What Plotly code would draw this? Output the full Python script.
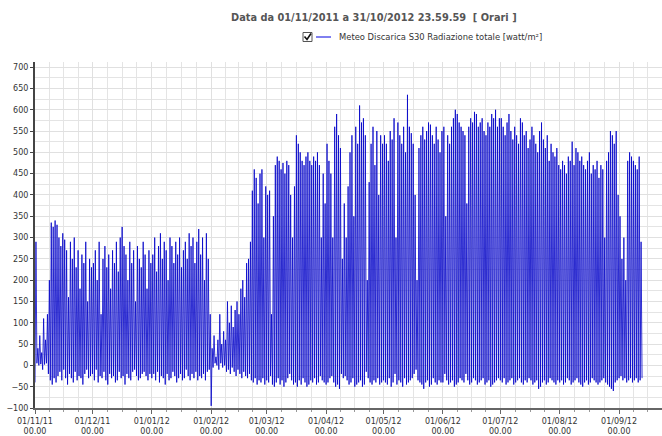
import pandas as pd
import plotly.graph_objects as go

# ---- data: daily peak (midday) and night values ----
nov_peak = [290, 40, 70, 30, 110, 60, 120, 200, 335, 325, 340, 330, 300, 280, 310, 295, 270, 160, 290, 250,
            300, 230, 270, 180, 260, 240, 290, 150, 250, 230]
dec_peak = [240, 270, 200, 290, 120, 250, 280, 230, 260, 180, 270, 240, 290, 220, 300, 325, 280, 260, 200, 290,
            240, 270, 150, 280, 250, 230, 290, 260, 180, 270, 240]
jan_peak = [260, 300, 220, 280, 310, 250, 290, 270, 200, 300, 280, 240, 290, 260, 300, 230, 270, 290, 250, 310,
            280, 300, 240, 290, 320, 260, 300, 200, 310, 250, 120]
feb_peak = [40, 70, 20, 60, 120, 50, 80, 60, 150, 100, 140, 90, 130, 150, 120, 180, 200, 160, 240, 250,
            290, 410, 460, 440, 380, 450, 460, 300, 420]
mar_peak = [400, 410, 120, 350, 470, 490, 480, 460, 475, 450, 480, 470, 400, 300, 420, 540, 520, 500, 480, 470,
            490, 500, 480, 470, 490, 480, 500, 470, 300, 450, 380]
apr_peak = [520, 480, 450, 300, 560, 590, 540, 510, 250, 380, 300, 420, 500, 540, 350, 560, 520, 610, 570, 580,
            540, 200, 430, 520, 560, 470, 550, 400, 540, 520]
may_peak = [540, 520, 480, 550, 530, 580, 300, 570, 540, 520, 560, 500, 635, 560, 545, 520, 400, 200, 510, 540,
            560, 530, 550, 570, 565, 540, 520, 560, 530, 500, 550]
jun_peak = [560, 350, 540, 520, 560, 580, 600, 590, 570, 560, 550, 540, 380, 560, 580, 570, 595, 590, 560, 570,
            580, 550, 540, 570, 560, 590, 580, 600, 560, 580]
jul_peak = [580, 560, 540, 570, 590, 550, 530, 560, 540, 520, 580, 570, 540, 550, 510, 530, 560, 540, 520, 500,
            550, 570, 530, 510, 540, 480, 520, 500, 490, 510, 470]
aug_peak = [460, 480, 470, 450, 490, 480, 525, 470, 510, 500, 480, 490, 470, 460, 480, 500, 450, 470, 460, 480,
            440, 470, 460, 300, 480, 500, 550, 540, 520, 550, 400]
sep_peak = [350, 250, 300, 200, 480, 500, 490, 480, 470, 460, 490, 290]

nov_night = [-40, 5, 0, 3, -10, 2, 5, -20, -35, -45, -30, -40, -25, -15, -35, -10, -30, -45, -20, -30,
             -40, -15, -35, -25, -30, -45, -20, -10, -30, -25]
dec_night = [-20, -35, -10, -40, -25, -30, -15, -35, -45, -20, -30, -25, -40, -35, -15, -30, -25, -45, -20, -30,
             -35, -15, -10, -25, -35, -30, -20, -15, -25, -35, -20]
jan_night = [-30, -20, -35, -15, -40, -25, -30, -45, -20, -35, -30, -15, -25, -40, -30, -20, -35, -30, -10, -25,
             -35, -20, -30, -15, -35, -25, -30, -20, -35, -15, -10]
feb_night = [-95, -5, 5, 0, -10, 5, -5, 0, -15, -10, -20, -5, -15, -25, -10, -20, -30, -15, -25, -30,
             -20, -35, -40, -30, -45, -35, -40, -30, -45]
mar_night = [-35, -40, -25, -45, -50, -40, -30, -45, -35, -50, -40, -30, -20, -35, -45, -40, -50, -35, -45, -30,
             -40, -50, -45, -35, -40, -30, -45, -40, -25, -35, -40]
apr_night = [-45, -40, -30, -25, -40, -50, -45, -55, -20, -30, -25, -35, -45, -40, -30, -50, -45, -40, -35, -50,
             -45, -15, -30, -40, -45, -35, -40, -30, -45, -40]
may_night = [-35, -40, -45, -30, -50, -40, -20, -45, -35, -40, -50, -30, -45, -40, -35, -30, -20, -10, -35, -40,
             -45, -55, -40, -35, -50, -45, -30, -40, -45, -35, -40]
jun_night = [-40, -20, -35, -45, -40, -35, -50, -45, -40, -30, -35, -40, -20, -35, -45, -40, -30, -35, -45, -40,
             -35, -30, -45, -40, -35, -50, -45, -40, -35, -30]
jul_night = [-35, -40, -30, -45, -40, -35, -30, -45, -40, -35, -30, -40, -45, -35, -40, -30, -35, -45, -40, -35,
             -55, -50, -40, -35, -45, -40, -30, -35, -40, -45, -35]
aug_night = [-40, -35, -45, -40, -30, -35, -45, -40, -35, -30, -40, -45, -50, -40, -35, -45, -40, -30, -35, -40,
             -45, -40, -35, -30, -40, -45, -50, -55, -60, -40, -35]
sep_night = [-30, -25, -35, -30, -40, -35, -30, -40, -35, -30, -40, -35]
final_night = -30

month_starts = ["2011-11-01", "2011-12-01", "2012-01-01", "2012-02-01", "2012-03-01", "2012-04-01",
                "2012-05-01", "2012-06-01", "2012-07-01", "2012-08-01", "2012-09-01", "2012-10-01"]
tick_labels = ["01/11/11<br>00.00", "01/12/11<br>00.00", "01/01/12<br>00.00", "01/02/12<br>00.00",
               "01/03/12<br>00.00", "01/04/12<br>00.00", "01/05/12<br>00.00", "01/06/12<br>00.00",
               "01/07/12<br>00.00", "01/08/12<br>00.00", "01/09/12<br>00.00", "01/10/12<br>00.00"]

series_name = "Meteo Discarica S30 Radiazione totale [watt/m²]"
title_text = "Data da 01/11/2011 a 31/10/2012 23.59.59  [ Orari ]"

# ---- build the trace: night at 00:00, peak at 12:00 each day ----
peaks = (nov_peak + dec_peak + jan_peak + feb_peak + mar_peak + apr_peak + may_peak + jun_peak
         + jul_peak + aug_peak + sep_peak)
nights = (nov_night + dec_night + jan_night + feb_night + mar_night + apr_night + may_night + jun_night
          + jul_night + aug_night + sep_night)
start = pd.Timestamp(month_starts[0])
xs, ys = [], []
for i, (n, p) in enumerate(zip(nights, peaks)):
    d = start + pd.Timedelta(days=i)
    xs += [d, d + pd.Timedelta(hours=12)]
    ys += [n, p]
xs.append(start + pd.Timedelta(days=len(peaks)))
ys.append(final_night)

# minor grid: each month split in quarters
ms = [pd.Timestamp(m) for m in month_starts]
minor_vals = []
for a, b in zip(ms[:-1], ms[1:]):
    for k in (1, 2, 3):
        minor_vals.append(a + (b - a) * k / 4)

W, H = 662, 436
L, R, T, B = 35, 0, 62, 28
pw, ph = W - L - R, H - T - B


def px(x):
    return (x - L) / pw


def py(y):
    return (H - B - y) / ph


fig = go.Figure()
fig.add_trace(go.Scatter(x=xs, y=ys, mode="lines", line=dict(color="#0000C8", width=0.8),
                         name=series_name, showlegend=False, hoverinfo="skip"))

font = "DejaVu Sans, Verdana, sans-serif"
fig.update_layout(
    width=W, height=H,
    margin=dict(l=L, r=R, t=T, b=B, pad=0),
    paper_bgcolor="white", plot_bgcolor="white",
    showlegend=False,
    xaxis=dict(
        range=[start, pd.Timestamp("2012-09-23 10:00")],
        tickmode="array", tickvals=ms, ticktext=tick_labels,
        tickfont=dict(family=font, size=8, color="#333333"),
        ticks="outside", ticklen=4, tickcolor="#666666",
        showline=True, linecolor="#666666", linewidth=2,
        showgrid=True, gridcolor="#e0e0e0", gridwidth=1,
        minor=dict(tickmode="array", tickvals=minor_vals, showgrid=True, gridcolor="#e4e4e4",
                   ticks="outside", ticklen=2, tickcolor="#999999"),
        zeroline=False, fixedrange=True, automargin=False,
    ),
    yaxis=dict(
        range=[-100, 712], tick0=0, dtick=50,
        tickfont=dict(family=font, size=8, color="#333333"),
        ticks="outside", ticklen=3, tickcolor="#444444",
        showline=True, linecolor="#444444", linewidth=2,
        showgrid=True, gridcolor="#e0e0e0", gridwidth=1,
        minor=dict(dtick=25, showgrid=True, gridcolor="#e4e4e4"),
        zeroline=False, fixedrange=True, automargin=False,
    ),
)

# title
fig.add_annotation(text="<b>" + title_text + "</b>", xref="paper", yref="paper",
                   x=px(374), y=py(17), xanchor="center", yanchor="middle", showarrow=False,
                   font=dict(family=font, size=9.8, color="#555555"))
# legend (checkbox, line sample, label)
fig.add_shape(type="rect", xref="paper", yref="paper", x0=px(303), x1=px(312), y0=py(41.5), y1=py(32.5),
              line=dict(color="#555555", width=1), fillcolor="white")
fig.add_shape(type="path", xref="paper", yref="paper",
              path=f"M {px(304.5)} {py(36.5)} L {px(307)} {py(39.5)} L {px(311)} {py(33.5)}",
              line=dict(color="#111111", width=1.6))
fig.add_shape(type="line", xref="paper", yref="paper", x0=px(316), x1=px(331), y0=py(37), y1=py(37),
              line=dict(color="#0000E0", width=1))
fig.add_annotation(text=series_name, xref="paper", yref="paper", x=px(337), y=py(37),
                   xanchor="left", yanchor="middle", showarrow=False,
                   font=dict(family=font, size=8.4, color="#333333"))

fig.write_html("out.html", config={"displayModeBar": False},
               post_script="document.body.style.margin='0';document.body.style.overflow='hidden';")
